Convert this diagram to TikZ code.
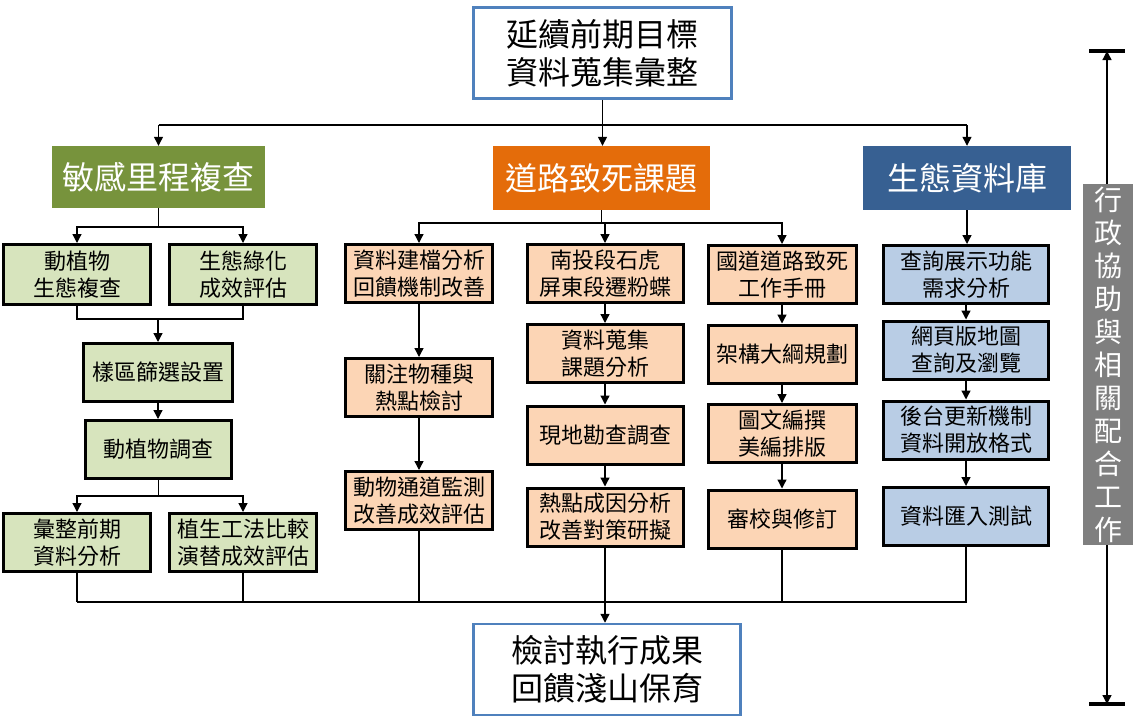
\documentclass[tikz,border=0pt]{standalone}
\usepackage{fontspec}
\setmainfont{Noto Sans CJK TC}
\usetikzlibrary{arrows.meta}
\definecolor{gHead}{HTML}{77933C}
\definecolor{gLight}{HTML}{D7E4BD}
\definecolor{oHead}{HTML}{E46C0A}
\definecolor{oLight}{HTML}{FCD5B5}
\definecolor{bHead}{HTML}{376092}
\definecolor{bLight}{HTML}{B9CDE5}
\definecolor{sideGray}{HTML}{7F7F7F}
\definecolor{edgeBlue}{HTML}{4F81BD}
\begin{document}
\begin{tikzpicture}[x=1pt,y=-1pt,
  big/.style={draw=edgeBlue, line width=2.5pt, fill=white, minimum width=258pt, minimum height=91pt, align=center, inner sep=0pt, font=\fontsize{32}{38}\selectfont},
  head/.style={minimum height=62pt, text=white, inner sep=0pt, font=\fontsize{32}{38}\selectfont},
  sub/.style={draw=black, line width=3pt, minimum height=58pt, align=center, inner sep=0pt, font=\fontsize{22}{27}\selectfont},
  gsub/.style={sub, fill=gLight, minimum width=147pt},
  osub/.style={sub, fill=oLight, minimum width=147pt},
  psub/.style={sub, fill=oLight, minimum width=156pt},
  qsub/.style={sub, fill=oLight, minimum width=148pt},
  bsub/.style={sub, fill=bLight, minimum width=165pt},
  conn/.style={line width=1.3pt},
  arr/.style={conn, -{Triangle[length=9pt,width=9pt]}}
]
\useasboundingbox (0,0) rectangle (1140,726);

% main boxes
\node[big] (top) at (602.5,53) {延續前期目標\\資料蒐集彙整};
\node[big, minimum width=267pt, minimum height=91pt] (bot) at (607,669.5) {檢討執行成果\\回饋淺山保育};

% headers
\node[head, fill=gHead, minimum width=213pt] (h1) at (158.5,177) {敏感里程複查};
\node[head, fill=oHead, minimum width=217pt, minimum height=64pt] (h2) at (601.5,178) {道路致死課題};
\node[head, fill=bHead, minimum width=208pt, minimum height=64pt] (h3) at (967,178) {生態資料庫};

% green column
\node[gsub, minimum height=60pt] (g1) at (77,274.5) {動植物\\生態複查};
\node[gsub, minimum height=60pt] (g2) at (243,274.5) {生態綠化\\成效評估};
\node[gsub, minimum width=149pt] (g3) at (158,372.5) {樣區篩選設置};
\node[gsub, minimum width=146pt] (g4) at (158.5,449.5) {動植物調查};
\node[gsub] (g5) at (77,542.5) {彙整前期\\資料分析};
\node[gsub] (g6) at (243,542.5) {植生工法比較\\演替成效評估};

% orange column 1
\node[osub] (o1) at (419,273.5) {資料建檔分析\\回饋機制改善};
\node[osub] (o2) at (419,387.5) {關注物種與\\熱點檢討};
\node[osub] (o3) at (419,500.5) {動物通道監測\\改善成效評估};

% orange column 2
\node[psub] (p1) at (605,273.5) {南投段石虎\\屏東段遷粉蝶};
\node[psub] (p2) at (605,353.5) {資料蒐集\\課題分析};
\node[psub] (p3) at (605,435) {現地勘查調查};
\node[psub] (p4) at (605,517) {熱點成因分析\\改善對策研擬};

% orange column 3
\node[qsub] (q1) at (782,274.5) {國道道路致死\\工作手冊};
\node[qsub] (q2) at (782,354) {架構大綱規劃};
\node[qsub] (q3) at (782,433.5) {圖文編撰\\美編排版};
\node[qsub] (q4) at (782,519) {審校與修訂};

% blue column
\node[bsub] (b1) at (966,274.5) {查詢展示功能\\需求分析};
\node[bsub] (b2) at (966,350) {網頁版地圖\\查詢及瀏覽};
\node[bsub] (b3) at (966,430) {後台更新機制\\資料開放格式};
\node[bsub] (b4) at (966,516.5) {資料匯入測試};

% side box
\node[fill=sideGray, text=white, minimum width=50pt, minimum height=361pt, inner sep=0pt, align=center, font=\fontsize{28}{33}\selectfont] (side) at (1108,364.5) {行\\政\\協\\助\\與\\相\\關\\配\\合\\工\\作};

% top bus
\coordinate (busT) at (602.5,125);
\draw[conn] (h1.north |- busT) -- (h3.north |- busT);
\draw[arr] (h1.north |- busT) -- (h1.north);
\draw[arr] (h3.north |- busT) -- (h3.north);
\draw[arr] (top.south) -- (top.south |- h2.north);

% green connectors
\coordinate (gA) at (158.5,227);
\draw[conn] (h1.south) -- (gA);
\draw[arr] (gA) -| (g1.north);
\draw[arr] (gA) -| (g2.north);
\coordinate (gB) at (158,319);
\draw[conn] (g1.south) |- (gB);
\draw[conn] (g2.south) |- (gB);
\draw[arr] (gB) -- (g3.north);
\draw[arr] (g3.south) -- (g3.south |- g4.north);
\coordinate (gC) at (158.5,496);
\draw[conn] (g4.south) -- (gC);
\draw[arr] (gC) -| (g5.north);
\draw[arr] (gC) -| (g6.north);

% orange connectors
\coordinate (oA) at (601.5,223);
\draw[conn] (h2.south) -- (oA);
\draw[arr] (oA) -| (o1.north);
\draw[arr] (oA) -| (q1.north);
\draw[arr] (p1.north |- oA) -- (p1.north);
\draw[arr] (o1) -- (o2);
\draw[arr] (o2) -- (o3);
\draw[arr] (p1) -- (p2);
\draw[arr] (p2) -- (p3);
\draw[arr] (p3) -- (p4);
\draw[arr] (q1) -- (q2);
\draw[arr] (q2) -- (q3);
\draw[arr] (q3) -- (q4);

% blue connectors
\draw[arr] (h3.south) -- (h3.south |- b1.north);
\draw[arr] (b1) -- (b2);
\draw[arr] (b2) -- (b3);
\draw[arr] (b3) -- (b4);

% bottom bus
\coordinate (busL) at (77,602);
\coordinate (busR) at (967,602);
\draw[conn] (busL) -- (busR);
\draw[conn] (g5.south) -- (g5.south |- busL);
\draw[conn] (g6.south) -- (g6.south |- busL);
\draw[conn] (o3.south) -- (o3.south |- busL);
\draw[conn] (q4.south) -- (q4.south |- busL);
\draw[conn] (b4.south) -- (b4.south |- busL);
\draw[arr] (p4.south) -- (p4.south |- bot.north);

% side arrows with bars
\coordinate (tA) at (1107,51);
\coordinate (tB) at (1107,704);
\draw[arr] (side.north -| tA) -- (tA);
\draw[arr] (side.south -| tB) -- (tB);
\draw[line width=4pt] ([xshift=-18pt]tA) -- ([xshift=18pt]tA);
\draw[line width=4pt] ([xshift=-18pt]tB) -- ([xshift=18pt]tB);
\end{tikzpicture}
\end{document}
